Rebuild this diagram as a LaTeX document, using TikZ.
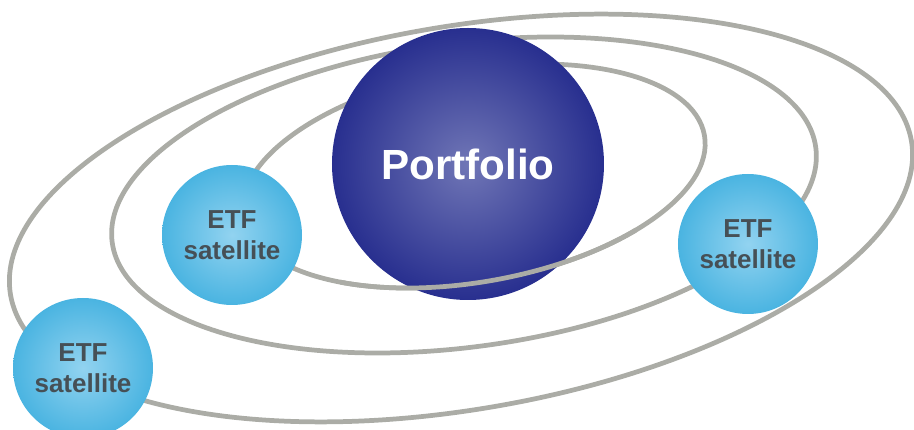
\documentclass[tikz,border=0pt]{standalone}
\usepackage{fontspec}
\setmainfont{Liberation Sans}
\usetikzlibrary{positioning}
\definecolor{orbitgray}{RGB}{171,172,166}
\definecolor{portlight}{RGB}{112,118,182}
\definecolor{portdark}{RGB}{40,47,143}
\definecolor{satlight}{RGB}{146,211,240}
\definecolor{satdark}{RGB}{74,180,225}
\definecolor{sattext}{RGB}{70,80,86}

\begin{document}
\begin{tikzpicture}[thick,
    orbit line/.style={draw=orbitgray,line width=1.35pt},
    main node/.style={circle,shade,inner color=portlight,outer color=portdark,
                      minimum size=2.72cm,inner sep=0pt,text=white,
                      font=\fontsize{12}{14}\selectfont\bfseries},
    sat node/.style={circle,shade,inner color=satlight,outer color=satdark,
                     minimum size=1.4cm,inner sep=0pt,align=center,text=sattext,
                     font=\fontsize{7.4}{8.9}\selectfont\bfseries}
  ]
  \clip (0,0) rectangle (9.14,4.30);
  % orbits
  \draw[orbit line,rotate around={9.7:(4.61,2.12)}] (4.61,2.12) ellipse (4.57 and 1.915);
  \draw[orbit line,rotate around={7.7:(4.64,2.35)}] (4.64,2.35) ellipse (3.55 and 1.52);
  \draw[orbit line,rotate around={10:(4.74,2.54)}] (4.74,2.54) ellipse (2.34 and 1.06);

  \node[main node] (port) at (4.68,2.66) {Portfolio};
  \node[sat node] (sat1) at (2.32,1.95) {ETF\\satellite};
  \node[sat node] (sat2) at (7.48,1.86) {ETF\\satellite};
  \node[sat node] (sat3) at (0.83,0.62) {ETF\\satellite};

  % inner orbit passes in front of the portfolio
  \draw[orbit line,shift={(4.74,2.54)},rotate=10] (230:2.34 and 1.06)
    arc[start angle=230,end angle=310,x radius=2.34,y radius=1.06];
\end{tikzpicture}
\end{document}
